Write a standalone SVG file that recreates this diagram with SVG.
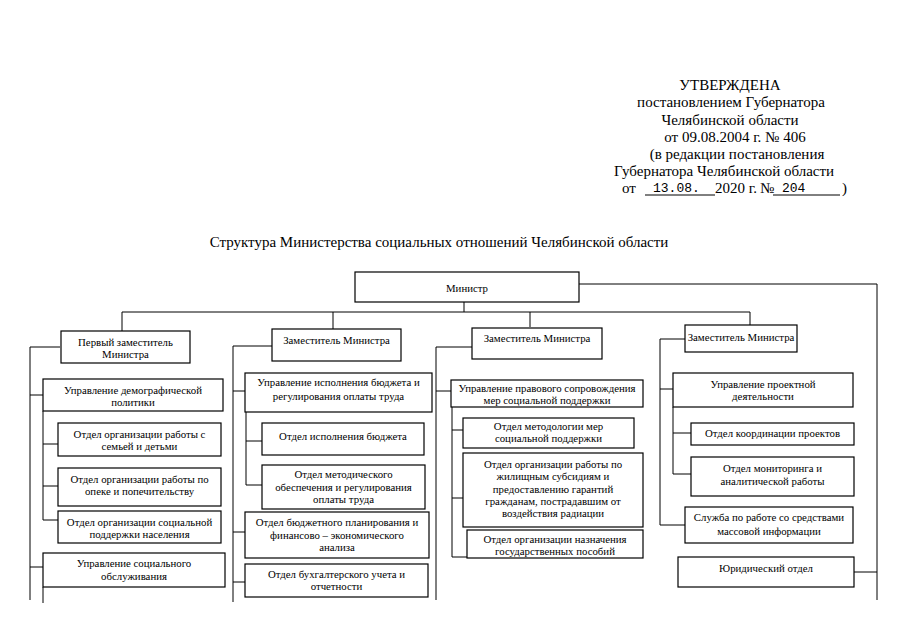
<svg xmlns="http://www.w3.org/2000/svg" width="905" height="640" viewBox="0 0 905 640">
<style>
.bg{fill:#fff}
.box{fill:#fff;stroke:#000;stroke-width:1.2}
.ln{fill:none;stroke:#000;stroke-width:1}
text{font-family:"Liberation Serif","Times New Roman",serif;fill:#000}
.t{font-family:"Liberation Serif","Times New Roman",serif;font-size:10.8px;text-anchor:middle}
.h{font-size:15px;text-anchor:middle}
.m{font-family:"Liberation Mono","Courier New",monospace;font-size:13px}
</style>
<rect class="bg" x="0" y="0" width="905" height="640"/>
<g id="header">
<text class="h" x="730" y="90">УТВЕРЖДЕНА</text>
<text class="h" x="731" y="107">постановлением Губернатора</text>
<text class="h" x="730" y="125">Челябинской области</text>
<text class="h" x="735" y="142">от 09.08.2004 г. № 406</text>
<text class="h" x="737" y="159">(в редакции постановления</text>
<text class="h" x="724" y="176">Губернатора Челябинской области</text>
<text x="622" y="193" style="font-size:15px">от</text>
<text class="m" x="653" y="192">13.08.</text>
<text x="715" y="193" style="font-size:15px">2020 г.</text>
<text x="760" y="193" style="font-size:15px">№</text>
<text class="m" x="782" y="192">204</text>
<text x="842" y="193" style="font-size:15px">)</text>
<path class="ln" d="M645,195 H715 M773,195 H840"/>
</g>
<text id="title" class="h" x="439" y="247">Структура Министерства социальных отношений Челябинской области</text>
<g id="connectors">
<path class="ln" d="M579,284 H877 V600 M854,572 H877"/>
<path class="ln" d="M464,302 V312 M122,312 H750 M122,312 V331 M333,312 V329 M530,312 V327 M750,312 V325"/>
<path class="ln" d="M60,347 H30 V600 M30,395 H43 M30,567 H43 M43,411 V520 H58 M43,444 H58 M43,486 H58 M43,587 V603"/>
<path class="ln" d="M272,346 H233 V602 M233,391 H245 M233,532 H245 M233,582 H245 M246,412 V485 H262 M246,441 H262"/>
<path class="ln" d="M472,347 H436 V600 M436,391 H451 M452,407 V557 H467 M452,430 H463 M452,498 H463"/>
<path class="ln" d="M685,339 H660 V525 H685 M660,389 H673 M673,407 V474 H691 M673,433 H691"/>
</g>
<g id="minister"><rect class="box" x="355" y="272" width="224" height="30"/><text class="t" x="467" y="292">Министр</text></g>
<g id="dep1"><rect class="box" x="61" y="331" width="129" height="32"/><text class="t" x="125.5" y="346">Первый заместитель</text><text class="t" x="125.5" y="358">Министра</text></g>
<g id="c1b1"><rect class="box" x="43" y="379" width="180" height="32"/><text class="t" x="133" y="394">Управление демографической</text><text class="t" x="133" y="406">политики</text></g>
<g id="c1b2"><rect class="box" x="58" y="423" width="163" height="33"/><text class="t" x="139.5" y="438">Отдел организации работы с</text><text class="t" x="139.5" y="450">семьей и детьми</text></g>
<g id="c1b3"><rect class="box" x="58" y="468" width="163" height="38"/><text class="t" x="139.5" y="483">Отдел организации работы по</text><text class="t" x="139.5" y="495">опеке и попечительству</text></g>
<g id="c1b4"><rect class="box" x="58" y="511" width="163" height="32"/><text class="t" x="139.5" y="526">Отдел организации социальной</text><text class="t" x="139.5" y="538">поддержки населения</text></g>
<g id="c1b5"><rect class="box" x="43" y="553" width="182" height="34"/><text class="t" x="134" y="567">Управление социального</text><text class="t" x="134" y="580">обслуживания</text></g>
<g id="dep2"><rect class="box" x="272" y="329" width="129" height="32"/><text class="t" x="336.5" y="344">Заместитель Министра</text></g>
<g id="c2b1"><rect class="box" x="245" y="373" width="187" height="39"/><text class="t" x="338.5" y="386">Управление исполнения бюджета и</text><text class="t" x="338.5" y="400">регулирования оплаты труда</text></g>
<g id="c2b2"><rect class="box" x="262" y="423" width="162" height="32"/><text class="t" x="343" y="440">Отдел исполнения бюджета</text></g>
<g id="c2b3"><rect class="box" x="262" y="465" width="163" height="44"/><text class="t" x="343.5" y="478">Отдел методического</text><text class="t" x="343.5" y="491">обеспечения и регулирования</text><text class="t" x="343.5" y="503">оплаты труда</text></g>
<g id="c2b4"><rect class="box" x="245" y="512" width="184" height="46"/><text class="t" x="337" y="526">Отдел бюджетного планирования и</text><text class="t" x="337" y="539">финансово – экономического</text><text class="t" x="337" y="551">анализа</text></g>
<g id="c2b5"><rect class="box" x="245" y="564" width="183" height="33"/><text class="t" x="336.5" y="578">Отдел бухгалтерского учета и</text><text class="t" x="336.5" y="590">отчетности</text></g>
<g id="dep3"><rect class="box" x="472" y="328" width="130" height="31"/><text class="t" x="537" y="342">Заместитель Министра</text></g>
<g id="c3b1"><rect class="box" x="451" y="380" width="192" height="27"/><text class="t" x="547" y="392">Управление правового сопровождения</text><text class="t" x="547" y="404">мер социальной поддержки</text></g>
<g id="c3b2"><rect class="box" x="463" y="418" width="171" height="30"/><text class="t" x="548.5" y="430">Отдел методологии мер</text><text class="t" x="548.5" y="442">социальной поддержки</text></g>
<g id="c3b3"><rect class="box" x="463" y="453" width="180" height="74"/><text class="t" x="553" y="468">Отдел организации работы по</text><text class="t" x="553" y="480">жилищным субсидиям и</text><text class="t" x="553" y="493">предоставлению гарантий</text><text class="t" x="553" y="505">гражданам, пострадавшим от</text><text class="t" x="553" y="517">воздействия радиации</text></g>
<g id="c3b4"><rect class="box" x="467" y="530" width="176" height="28"/><text class="t" x="555" y="543">Отдел организации назначения</text><text class="t" x="555" y="555">государственных пособий</text></g>
<g id="dep4"><rect class="box" x="685" y="325" width="112" height="27"/><text class="t" x="741" y="341">Заместитель Министра</text></g>
<g id="c4b1"><rect class="box" x="673" y="373" width="180" height="34"/><text class="t" x="763" y="388">Управление проектной</text><text class="t" x="763" y="400">деятельности</text></g>
<g id="c4b2"><rect class="box" x="691" y="423" width="163" height="22"/><text class="t" x="772.5" y="437">Отдел координации проектов</text></g>
<g id="c4b3"><rect class="box" x="691" y="457" width="163" height="39"/><text class="t" x="772.5" y="472">Отдел мониторинга и</text><text class="t" x="772.5" y="485">аналитической работы</text></g>
<g id="c4b4"><rect class="box" x="685" y="507" width="168" height="36"/><text class="t" x="769" y="521">Служба по работе со средствами</text><text class="t" x="769" y="535">массовой информации</text></g>
<g id="c4b5"><rect class="box" x="678" y="557" width="176" height="30"/><text class="t" x="766" y="572">Юридический отдел</text></g>
</svg>
